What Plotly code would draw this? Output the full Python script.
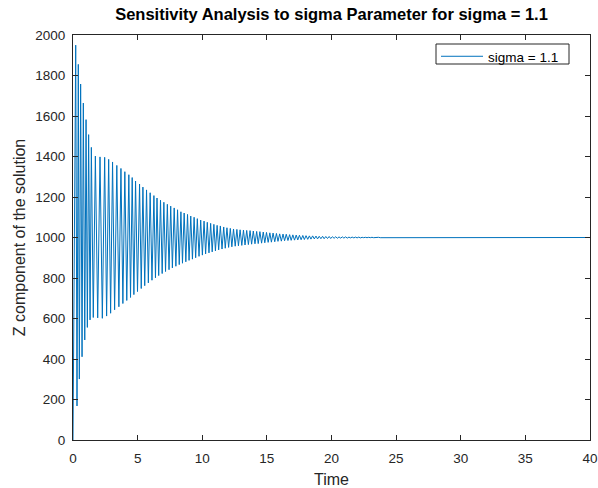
import plotly.graph_objects as go

# Local maxima of the Z component: time and value
peak_t = [0.21, 0.41, 0.59, 0.80, 1.01, 1.21, 1.42, 1.73, 2.09, 2.45,
          2.76, 3.06, 3.39, 3.71, 4.01, 4.32, 4.58, 4.84, 5.15, 5.41,
          5.69, 5.97, 6.26, 6.50, 6.77, 7.03, 7.30, 7.56, 7.83, 8.09,
          8.35, 8.60, 8.86, 9.11, 9.37, 9.62, 9.88, 10.14, 10.39, 10.65,
          10.90, 11.15, 11.40, 11.66, 11.91, 12.17, 12.42, 12.68, 12.93, 13.19,
          13.44, 13.70, 13.95, 14.21, 14.46, 14.72, 14.97, 15.23, 15.48, 15.74,
          15.99, 16.25, 16.50, 16.76, 17.01, 17.27, 17.52, 17.78, 18.03, 18.29,
          18.54, 18.80, 19.05, 19.31, 19.56, 19.82, 20.07, 20.33, 20.58, 20.84,
          21.09, 21.35, 21.60, 21.86, 22.11, 22.37, 22.62, 22.88, 23.13, 23.39,
          23.64]
peak_z = [1950, 1855, 1758, 1664, 1582, 1508, 1445, 1402, 1398, 1396,
          1386, 1373, 1356, 1341, 1325, 1310, 1296, 1279, 1264, 1249,
          1235, 1221, 1207, 1195, 1184, 1174, 1164, 1155, 1146, 1137,
          1127, 1121, 1114, 1106, 1100, 1093, 1086, 1081, 1075, 1070,
          1065, 1060, 1057, 1052, 1048, 1045, 1042, 1040, 1038, 1037,
          1035, 1034, 1032, 1030, 1029, 1027, 1025, 1023, 1022, 1020,
          1018, 1017, 1016, 1014, 1013, 1012, 1011, 1010, 1009, 1008,
          1008, 1007, 1006, 1006, 1005, 1005, 1004, 1004, 1003, 1003,
          1003, 1002, 1002, 1002, 1002, 1001, 1001, 1001, 1001, 1001,
          1001]

# Local minima of the Z component: time and value
trough_t = [0.31, 0.49, 0.70, 0.91, 1.11, 1.32, 1.57, 1.91, 2.27, 2.60,
            2.91, 3.22, 3.55, 3.86, 4.16, 4.45, 4.71, 4.99, 5.28, 5.55,
            5.83, 6.11, 6.38, 6.63, 6.90, 7.16, 7.43, 7.69, 7.96, 8.22,
            8.47, 8.73, 8.98, 9.24, 9.49, 9.75, 10.01, 10.26, 10.52, 10.77,
            11.02, 11.27, 11.53, 11.78, 12.04, 12.29, 12.55, 12.80, 13.06, 13.31,
            13.57, 13.82, 14.08, 14.33, 14.59, 14.84, 15.10, 15.35, 15.61, 15.86,
            16.12, 16.37, 16.63, 16.88, 17.14, 17.39, 17.65, 17.90, 18.16, 18.41,
            18.67, 18.92, 19.18, 19.43, 19.69, 19.94, 20.20, 20.45, 20.71, 20.96,
            21.22, 21.47, 21.73, 21.98, 22.24, 22.49, 22.75, 23.00, 23.26, 23.51,
            23.77]
trough_z = [168, 301, 411, 494, 556, 593, 605, 603, 601, 612,
            626, 643, 658, 674, 689, 704, 718, 733, 748, 762,
            776, 789, 801, 812, 822, 832, 841, 850, 858, 866,
            873, 880, 887, 893, 900, 907, 913, 919, 924, 929,
            934, 939, 943, 947, 951, 954, 957, 959, 961, 963,
            965, 967, 969, 970, 972, 974, 976, 977, 979, 981,
            982, 984, 985, 986, 987, 988, 989, 990, 991, 992,
            993, 993, 994, 994, 995, 995, 996, 996, 997, 997,
            997, 998, 998, 998, 998, 999, 999, 999, 999, 999,
            999]

# Initial and final states of the simulation
t_start, z_start = 0.0, 0
t_end, z_end = 40.0, 1000

x_ticks = [0, 5, 10, 15, 20, 25, 30, 35, 40]
y_ticks = [0, 200, 400, 600, 800, 1000, 1200, 1400, 1600, 1800, 2000]

t = [t_start]
z = [z_start]
for pt, pz, tt, tz in zip(peak_t, peak_z, trough_t, trough_z):
    t += [pt, tt]
    z += [pz, tz]
t.append(t_end)
z.append(z_end)

# Figure geometry (pixels)
W, H = 598, 488
L, R, T, B = 73, 590, 35, 440
PW, PH = R - L, B - T


def px_x(x):
    return (x - L) / PW


def px_y(y):
    return (B - y) / PH


axis_color = "#262626"
font_family = "Liberation Sans, Arial, sans-serif"

fig = go.Figure()
fig.add_trace(go.Scatter(
    x=t, y=z, mode="lines", name="sigma = 1.1",
    line=dict(color="#0072BD", width=1),
))

axis_common = dict(
    showline=True, linecolor=axis_color, linewidth=1, mirror="ticks",
    ticks="inside", ticklen=5, tickcolor=axis_color, tickwidth=1,
    showgrid=False, zeroline=False, automargin=False,
    tickfont=dict(family=font_family, size=13.5, color=axis_color),
)

# legend frame
fig.add_shape(
    type="rect", xref="paper", yref="paper",
    x0=px_x(436), x1=px_x(569), y0=px_y(64), y1=px_y(44),
    line=dict(color=axis_color, width=1), fillcolor="white", layer="above",
)

fig.update_layout(
    width=W, height=H,
    margin=dict(l=L, r=W - R, t=T, b=H - B),
    paper_bgcolor="white", plot_bgcolor="white",
    font=dict(family=font_family, color=axis_color),
    title=dict(
        text="<b>Sensitivity Analysis to sigma Parameter for sigma = 1.1</b>",
        font=dict(family=font_family, size=16.5, color="#000000"),
        x=(L + R) / 2 / W, xanchor="center",
        y=1 - 14 / H, yanchor="middle", yref="container",
    ),
    xaxis=dict(
        range=[0, 40], tickvals=x_ticks, ticklabelstandoff=6,
        title=dict(text="Time", font=dict(family=font_family, size=16, color=axis_color), standoff=9),
        **axis_common,
    ),
    yaxis=dict(
        range=[0, 2000], tickvals=y_ticks, ticklabelstandoff=4,
        title=dict(text="Z component of the solution", font=dict(family=font_family, size=16, color=axis_color), standoff=5),
        **axis_common,
    ),
    showlegend=True,
    legend=dict(
        x=px_x(436), xanchor="left",
        y=px_y(41), yanchor="top",
        borderwidth=0, bgcolor="rgba(0,0,0,0)",
        font=dict(family=font_family, size=13.5, color="#000000"),
        itemwidth=42,
    ),
)

fig.write_html("out.html")
